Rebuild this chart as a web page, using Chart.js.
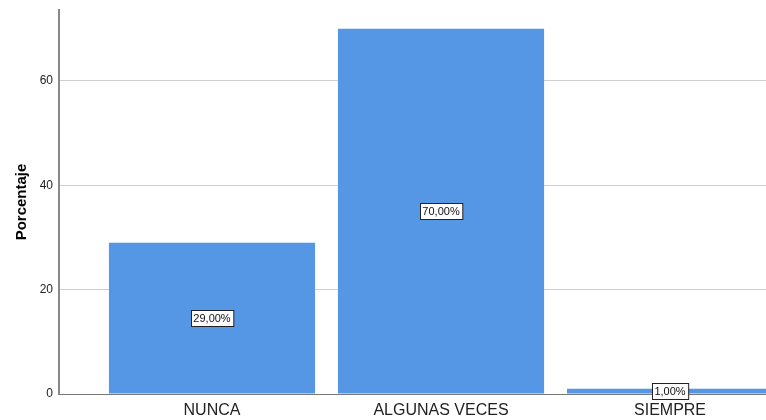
<!DOCTYPE html>
<html>
<head>
<meta charset="utf-8">
<script src="https://cdn.jsdelivr.net/npm/chart.js@4/dist/chart.umd.min.js"></script>
<style>
  html, body { margin: 0; padding: 0; background: #fff; overflow: hidden; }
  #wrap { width: 766px; height: 420px; position: relative; }
</style>
</head>
<body>
<div id="wrap"><canvas id="chart" width="766" height="420"></canvas></div>
<script>
// Data
const categories = ['NUNCA', 'ALGUNAS VECES', 'SIEMPRE'];
const percentages = [29, 70, 1];
const yTicks = [0, 20, 40, 60];

const barColor = '#5596e5';
const fontFamily = "'Liberation Sans', Arial, sans-serif";

// value boxes in the middle of each bar
const valueBoxes = {
    id: 'valueBoxes',
    afterDatasetsDraw(chart) {
        const ctx = chart.ctx;
        const meta = chart.getDatasetMeta(0);
        ctx.save();
        ctx.font = '11px ' + fontFamily;
        ctx.textAlign = 'center';
        ctx.textBaseline = 'middle';
        meta.data.forEach((bar, i) => {
            const text = percentages[i].toFixed(2).replace('.', ',') + '%';
            const cy = (bar.y + bar.base) / 2;
            const w = ctx.measureText(text).width + 5;
            const h = 16;
            const x0 = Math.round(bar.x - w / 2) + 0.5;
            const y0 = Math.round(cy - h / 2) + 0.5;
            ctx.fillStyle = '#ffffff';
            ctx.fillRect(x0, y0, w, h);
            ctx.strokeStyle = '#222';
            ctx.lineWidth = 1;
            ctx.strokeRect(x0, y0, w, h);
            ctx.fillStyle = '#111';
            ctx.fillText(text, bar.x, cy + 1);
        });
        ctx.restore();
    }
};

const ctx = document.getElementById('chart').getContext('2d');
new Chart(ctx, {
    type: 'bar',
    data: {
        datasets: [{
            data: percentages.map((v, i) => ({ x: i + 1, y: v })),
            backgroundColor: barColor,
            borderWidth: 0,
            categoryPercentage: 1,
            barPercentage: 0.9
        }]
    },
    options: {
        responsive: false,
        animation: false,
        layout: { padding: { top: 10, right: 0, bottom: 0, left: 0 } },
        plugins: {
            legend: { display: false },
            tooltip: { enabled: false }
        },
        scales: {
            x: {
                type: 'linear',
                offset: false,
                min: 0.332,
                max: 3.419,
                grid: { display: false, drawTicks: false },
                border: { display: true, color: '#777', width: 1 },
                afterBuildTicks: (scale) => {
                    scale.ticks = categories.map((c, i) => ({ value: i + 1 }));
                },
                afterFit: (scale) => {
                    scale.height = 26;
                    scale.paddingLeft = 0;
                    scale.paddingRight = 0;
                },
                ticks: {
                    autoSkip: false,
                    maxRotation: 0,
                    padding: 7,
                    color: '#222',
                    font: { family: fontFamily, size: 16 },
                    callback: (value) => categories[value - 1]
                }
            },
            y: {
                min: 0,
                max: 73.6,
                afterBuildTicks: (scale) => {
                    scale.ticks = yTicks.map(v => ({ value: v }));
                },
                afterFit: (scale) => {
                    scale.width = 59;
                    scale.paddingTop = 0;
                    scale.paddingBottom = 0;
                },
                grid: {
                    color: '#cfcfcf',
                    lineWidth: 1,
                    drawTicks: false
                },
                border: { display: true, color: '#888', width: 2 },
                ticks: {
                    padding: 6,
                    color: '#222',
                    font: { family: fontFamily, size: 12 }
                },
                title: {
                    display: true,
                    text: 'Porcentaje',
                    color: '#000',
                    font: { family: fontFamily, size: 15, weight: 'bold' },
                    padding: { top: 13, bottom: 0 }
                }
            }
        }
    },
    plugins: [valueBoxes]
});
</script>
</body>
</html>
